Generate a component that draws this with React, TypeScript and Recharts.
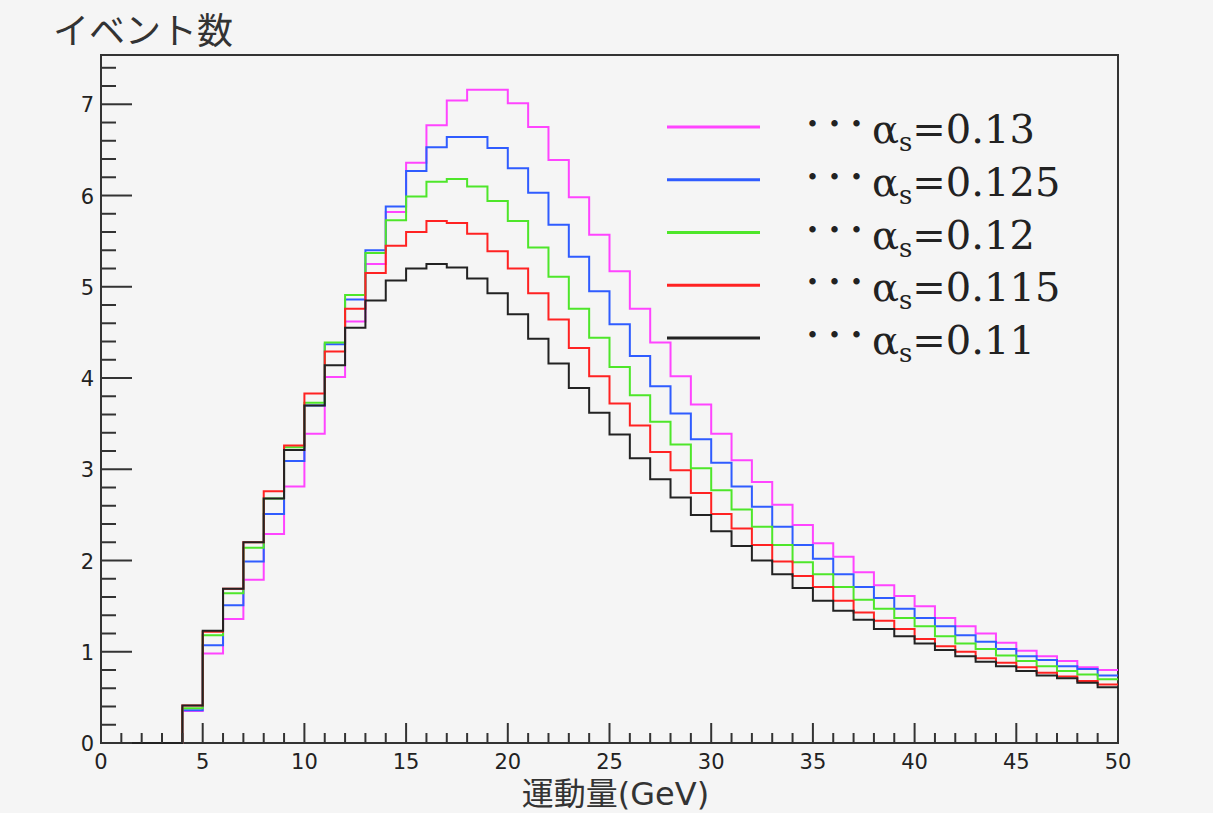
import { Legend, Line, LineChart, ReferenceArea, XAxis, YAxis } from "recharts";

// histogram bins of 1 GeV, low edges 0..49 plus the upper edge 50
const BIN_EDGES = [
  0, 1, 2, 3, 4, 5, 6, 7, 8, 9, 10, 11, 12, 13, 14, 15, 16, 17, 18, 19, 20, 21, 22, 23, 24, 25,
  26, 27, 28, 29, 30, 31, 32, 33, 34, 35, 36, 37, 38, 39, 40, 41, 42, 43, 44, 45, 46, 47, 48, 49, 50,
];

const ALPHA_LABELS = ["0.13", "0.125", "0.12", "0.115", "0.11"];

const A130 = [
  0, 0, 0, 0, 0.35, 0.98, 1.36, 1.79, 2.29, 2.81, 3.39, 4.01, 4.62, 5.25,
  5.82, 6.36, 6.77, 7.04, 7.16, 7.16, 7.01, 6.75, 6.39, 5.98,
  5.57, 5.17, 4.76, 4.39, 4.02, 3.71, 3.39, 3.1, 2.86, 2.61,
  2.39, 2.19, 2.04, 1.87, 1.73, 1.61, 1.5, 1.37, 1.28, 1.2,
  1.1, 1.01, 0.95, 0.9, 0.83, 0.8,
];
const A125 = [
  0, 0, 0, 0, 0.36, 1.07, 1.51, 1.99, 2.51, 3.09, 3.7, 4.37, 4.86, 5.4,
  5.88, 6.27, 6.53, 6.64, 6.64, 6.52, 6.3, 6.03, 5.68, 5.33,
  4.95, 4.59, 4.24, 3.91, 3.61, 3.33, 3.07, 2.81, 2.59, 2.37,
  2.17, 2.02, 1.85, 1.71, 1.59, 1.47, 1.37, 1.28, 1.18, 1.11,
  1.03, 0.95, 0.91, 0.84, 0.81, 0.74,
];
const A120 = [
  0, 0, 0, 0, 0.38, 1.18, 1.64, 2.14, 2.68, 3.24, 3.73, 4.39, 4.91, 5.37,
  5.73, 5.99, 6.15, 6.18, 6.1, 5.94, 5.72, 5.43, 5.11, 4.76,
  4.44, 4.12, 3.81, 3.52, 3.27, 3.01, 2.77, 2.56, 2.37, 2.17,
  1.98, 1.85, 1.71, 1.57, 1.47, 1.37, 1.28, 1.17, 1.09, 1.03,
  0.96, 0.9, 0.84, 0.79, 0.75, 0.7,
];
const A115 = [
  0, 0, 0, 0, 0.41, 1.22, 1.69, 2.2, 2.76, 3.26, 3.83, 4.29, 4.76, 5.15,
  5.45, 5.6, 5.72, 5.7, 5.58, 5.39, 5.2, 4.93, 4.64, 4.33,
  4.02, 3.72, 3.48, 3.19, 2.99, 2.74, 2.51, 2.35, 2.17, 1.99,
  1.83, 1.71, 1.56, 1.43, 1.34, 1.25, 1.14, 1.06, 1.0, 0.93,
  0.88, 0.83, 0.77, 0.73, 0.68, 0.64,
];
const A110 = [
  0, 0, 0, 0, 0.41, 1.23, 1.69, 2.2, 2.68, 3.21, 3.7, 4.14, 4.55, 4.85,
  5.07, 5.2, 5.25, 5.21, 5.09, 4.93, 4.7, 4.43, 4.16, 3.89,
  3.62, 3.38, 3.12, 2.89, 2.69, 2.5, 2.32, 2.16, 2.0, 1.85,
  1.7, 1.56, 1.45, 1.35, 1.25, 1.17, 1.09, 1.02, 0.95, 0.89,
  0.84, 0.79, 0.74, 0.71, 0.66, 0.61,
];

const X_TICKS = [
  0, 1, 2, 3, 4, 5, 6, 7, 8, 9, 10, 11, 12, 13, 14, 15, 16, 17, 18, 19, 20, 21, 22, 23, 24, 25,
  26, 27, 28, 29, 30, 31, 32, 33, 34, 35, 36, 37, 38, 39, 40, 41, 42, 43, 44, 45, 46, 47, 48, 49, 50,
];
const Y_TICKS = [
  0, 0.2, 0.4, 0.6, 0.8, 1, 1.2, 1.4, 1.6, 1.8, 2, 2.2, 2.4, 2.6, 2.8, 3, 3.2, 3.4, 3.6, 3.8,
  4, 4.2, 4.4, 4.6, 4.8, 5, 5.2, 5.4, 5.6, 5.8, 6, 6.2, 6.4, 6.6, 6.8, 7, 7.2, 7.4,
];
const Y_MAX = 7.54;

const SERIES = [
  { key: "a130", values: A130, color: "#ff44ff" },
  { key: "a125", values: A125, color: "#2f5cff" },
  { key: "a120", values: A120, color: "#4ee62a" },
  { key: "a115", values: A115, color: "#ff2222" },
  { key: "a110", values: A110, color: "#222222" },
];

const rows = BIN_EDGES.map((x, i) => {
  const row: Record<string, number> = { x };
  SERIES.forEach((s) => {
    row[s.key] = s.values[Math.min(i, s.values.length - 1)];
  });
  return row;
});

const AXIS = "#333";
const SANS = "'DejaVu Sans', 'Noto Sans CJK JP', sans-serif";

function XTick({ x, y, payload }: any) {
  const v = payload.value;
  const major = v % 5 === 0;
  return (
    <g>
      <line x1={x} x2={x} y1={y} y2={y - (major ? 20 : 10)} stroke={AXIS} strokeWidth={2} />
      {major && (
        <text x={x} y={y + 26} textAnchor="middle" fontSize={21} fontFamily={SANS} fill="#222">
          {v}
        </text>
      )}
    </g>
  );
}

function YTick({ x, y, payload }: any) {
  const v = payload.value;
  const major = Math.abs(v - Math.round(v)) < 1e-6;
  return (
    <g>
      <line x1={x} x2={x + (major ? 31 : 15)} y1={y} y2={y} stroke={AXIS} strokeWidth={2} />
      {major && (
        <text x={x - 7} y={y + 8} textAnchor="end" fontSize={21} fontFamily={SANS} fill="#222">
          {Math.round(v)}
        </text>
      )}
    </g>
  );
}

function XTitle({ viewBox }: any) {
  return (
    <text
      x={viewBox.x + viewBox.width / 2 + 6}
      y={viewBox.y + 62}
      textAnchor="middle"
      fontSize={32}
      fontFamily={SANS}
      fill="#333"
    >
      運動量(GeV)
    </text>
  );
}

function YTitle({ viewBox }: any) {
  return (
    <text x={53} y={viewBox.y - 11} fontSize={36} fontFamily={SANS} fill="#333">
      イベント数
    </text>
  );
}

function AlphaLegend({ payload }: any) {
  const items = [...(payload || [])].sort(
    (a: any, b: any) => ALPHA_LABELS.indexOf(a.value) - ALPHA_LABELS.indexOf(b.value),
  );
  return (
    <svg width={430} height={280}>
      {items.map((p: any, i: number) => {
        const cy = 37 + i * 52.75;
        return (
          <g key={p.value}>
            <line x1={27} x2={120} y1={cy} y2={cy} stroke={p.color} strokeWidth={3} />
            <text x={166} y={cy + 16} fontSize={40} fontFamily="'DejaVu Serif', serif" fill="#222">
              <tspan fontSize={22} dy={-11} letterSpacing={9}>
                •••
              </tspan>
              <tspan dy={11}>α</tspan>
              <tspan fontSize={26} dy={8}>
                s
              </tspan>
              <tspan dy={-8}>={p.value}</tspan>
            </text>
          </g>
        );
      })}
    </svg>
  );
}

export default function App() {
  return (
    <div style={{ position: "absolute", left: 0, top: 0, width: 1213, height: 813, background: "#f5f5f5" }}>
      <LineChart width={1213} height={813} data={rows} margin={{ top: 55, right: 95, left: 0, bottom: 0 }}>
        <XAxis
          type="number"
          dataKey="x"
          domain={[0, 50]}
          ticks={X_TICKS}
          interval={0}
          tick={<XTick />}
          tickLine={false}
          tickSize={0}
          tickMargin={0}
          axisLine={false}
          height={70}
          label={<XTitle />}
        />
        <YAxis
          type="number"
          domain={[0, Y_MAX]}
          ticks={Y_TICKS}
          interval={0}
          tick={<YTick />}
          tickLine={false}
          tickSize={0}
          tickMargin={0}
          axisLine={false}
          width={101}
          label={<YTitle />}
        />
        <ReferenceArea x1={0} x2={50} y1={0} y2={Y_MAX} fill="none" stroke={AXIS} strokeWidth={2} />
        {SERIES.map((s, i) => (
          <Line
            key={s.key}
            type="stepAfter"
            dataKey={s.key}
            name={ALPHA_LABELS[i]}
            stroke={s.color}
            strokeWidth={2}
            dot={false}
            activeDot={false}
            isAnimationActive={false}
          />
        ))}
        <Legend
          layout="vertical"
          align="center"
          verticalAlign="middle"
          content={<AlphaLegend />}
          wrapperStyle={{ left: 640, top: 90, width: 430, height: 280 }}
        />
      </LineChart>
    </div>
  );
}
